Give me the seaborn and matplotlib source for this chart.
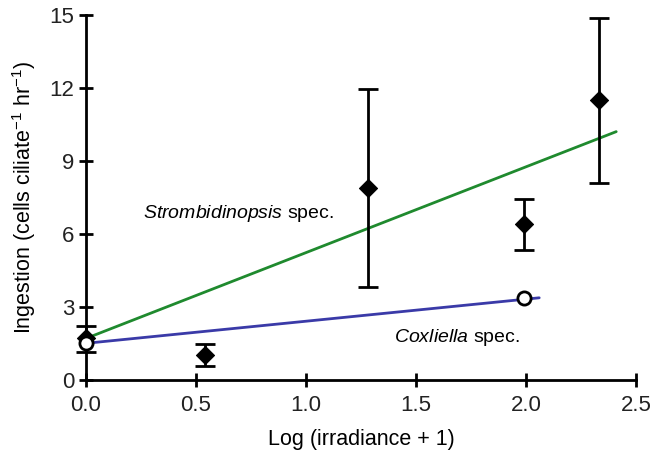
import matplotlib
matplotlib.use("Agg")
import matplotlib.pyplot as plt
import seaborn as sns
import pandas as pd

# Strombidinopsis spec. (filled diamonds, mean with range)
strom_x = [0.0, 0.54, 1.28, 1.99, 2.33]
strom_y = [1.7, 1.03, 7.9, 6.4, 11.5]
strom_lo = [1.15, 0.58, 3.8, 5.35, 8.07]
strom_hi = [2.2, 1.48, 11.95, 7.45, 14.85]

# Coxliella spec. (open circles)
cox_x = [0.0, 1.99]
cox_y = [1.52, 3.37]

# regression lines (endpoints)
green_x = [0.0, 2.41]
green_y = [1.7, 10.2]
blue_x = [0.0, 2.06]
blue_y = [1.5, 3.37]

sns.set_style("ticks")
plt.rcParams['font.family'] = ['Liberation Sans', 'DejaVu Sans']
plt.rcParams['mathtext.fontset'] = 'custom'
plt.rcParams['mathtext.rm'] = 'Liberation Sans'
plt.rcParams['mathtext.it'] = 'Liberation Sans:italic'
plt.rcParams['text.color'] = 'black'
plt.rcParams['axes.labelcolor'] = 'black'
plt.rcParams['xtick.labelcolor'] = '#222222'
plt.rcParams['ytick.labelcolor'] = '#222222'

fig = plt.figure(figsize=(6.51, 4.5), dpi=100)
ax = fig.add_axes([0.132, 0.156, 0.845, 0.811])

sns.lineplot(x=green_x, y=green_y, color='#1f8a2e', lw=2, ax=ax)
sns.lineplot(x=blue_x, y=blue_y, color='#3a3aa8', lw=2, ax=ax)

yerr = [[y - lo for y, lo in zip(strom_y, strom_lo)],
        [hi - y for y, hi in zip(strom_y, strom_hi)]]
eb = ax.errorbar(strom_x, strom_y, yerr=yerr, fmt='none', ecolor='black',
                 elinewidth=2, capsize=7, capthick=2, zorder=3)
for art in eb.lines[1] + eb.lines[2]:
    art.set_clip_on(False)

df_s = pd.DataFrame({'x': strom_x, 'y': strom_y})
sns.scatterplot(data=df_s, x='x', y='y', marker='D', s=85, color='black',
                edgecolor='black', zorder=4, clip_on=False, ax=ax)
df_c = pd.DataFrame({'x': cox_x, 'y': cox_y})
sns.scatterplot(data=df_c, x='x', y='y', marker='o', s=90, facecolor='white',
                edgecolor='black', linewidth=2, zorder=5, clip_on=False, ax=ax)

ax.text(0.26, 6.85, r'$\it{Strombidinopsis}$ spec.', fontsize=14, va='center')
ax.text(1.40, 1.75, r'$\it{Coxliella}$ spec.', fontsize=14, va='center')

ax.set_xlim(0, 2.5)
ax.set_ylim(0, 15)
ax.set_xticks([0.0, 0.5, 1.0, 1.5, 2.0, 2.5])
ax.set_xticklabels(['0.0', '0.5', '1.0', '1.5', '2.0', '2.5'])
ax.set_yticks([0, 3, 6, 9, 12, 15])
ax.tick_params(direction='inout', length=10, width=2, labelsize=16, color='black')
ax.tick_params(axis='x', pad=6)
for s in ['left', 'bottom']:
    ax.spines[s].set_linewidth(2)
    ax.spines[s].set_color('black')
sns.despine(ax=ax)

ax.set_xlabel('Log (irradiance + 1)', fontsize=15.5, labelpad=9)
ax.set_ylabel('Ingestion (cells ciliate$^{-1}$ hr$^{-1}$)', fontsize=15.5, labelpad=8)

fig.savefig('out.png', dpi=100)
